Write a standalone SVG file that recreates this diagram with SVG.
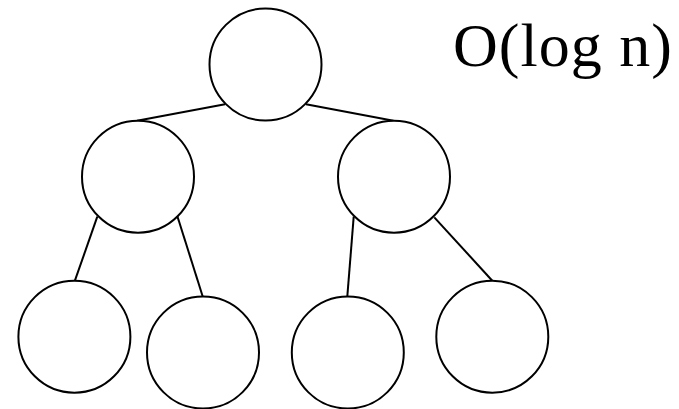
<svg xmlns="http://www.w3.org/2000/svg" width="679" height="409" viewBox="0 0 679 409">
<style>
.node{fill:#fff;stroke:#000;stroke-width:2}
.edge{stroke:#000;stroke-width:2;fill:none}
.lbl{font-family:"Liberation Serif","Times New Roman",serif;font-size:62px;letter-spacing:1px;fill:#000}
</style>
<rect width="679" height="409" fill="#fff"/>
<g id="edges">
<line class="edge" x1="225" y1="104.3" x2="137" y2="120.7"/>
<line class="edge" x1="306" y1="104.3" x2="393.5" y2="120.7"/>
<line class="edge" x1="97.3" y1="216.7" x2="74.9" y2="280.7"/>
<line class="edge" x1="177.3" y1="216" x2="202.8" y2="296.7"/>
<line class="edge" x1="353.7" y1="216.7" x2="347.3" y2="296.7"/>
<line class="edge" x1="434.3" y1="217.3" x2="492.3" y2="280.7"/>
</g>
<g id="root"><circle class="node" cx="265.5" cy="64.5" r="56"/></g>
<g id="midLeft"><circle class="node" cx="138" cy="176.7" r="56"/></g>
<g id="midRight"><circle class="node" cx="394" cy="176.7" r="56"/></g>
<g id="leaf1"><circle class="node" cx="74.4" cy="336.7" r="56"/></g>
<g id="leaf2"><circle class="node" cx="203" cy="352.5" r="56"/></g>
<g id="leaf3"><circle class="node" cx="347.8" cy="352.5" r="56"/></g>
<g id="leaf4"><circle class="node" cx="492.3" cy="336.7" r="56"/></g>
<g id="label"><text class="lbl" x="453" y="66">O(log n)</text></g>
</svg>
